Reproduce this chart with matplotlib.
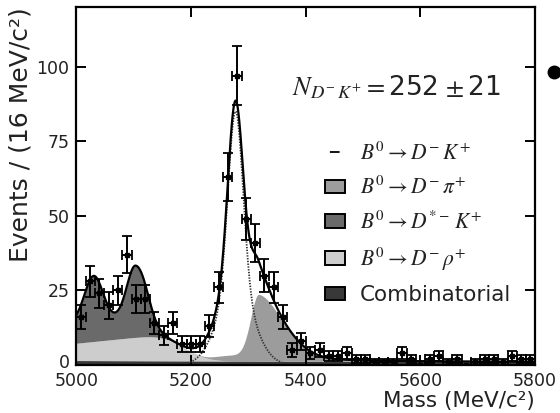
import math
import numpy as np
import matplotlib
matplotlib.use("Agg")
import matplotlib.pyplot as plt
import matplotlib.transforms as mtransforms
from matplotlib.lines import Line2D
from matplotlib.patches import Patch

plt.rcParams["mathtext.fontset"] = "stix"
plt.rcParams["font.family"] = ["DejaVu Sans"]
plt.rcParams["lines.scale_dashes"] = False

# ---- binned data: 16 MeV/c^2 bins from 5000 to 5800 ----
bin_width = 16
bin_centers = np.arange(5008, 5800, bin_width)
counts = [16, 28, 24, 20, 25, 37, 22, 22, 14, 10,
          14, 7, 7, 7, 13, 26, 63, 97, 49, 41,
          30, 26, 16, 5, 8, 4, 5, 3, 3, 4,
          2, 2, 1, 1, 1, 4, 2, 0, 2, 3,
          1, 2, 0, 1, 2, 2, 1, 3, 2, 2]

# ---- fit component parameters ----
# signal B0 -> D- K+ : double Gaussian
sig_mean = 5277.5
sig_core = [60.0, 13.0]    # amplitude, sigma
sig_wide = [25.0, 31.0]
# B0 -> D- pi+ (misidentified): bifurcated Gaussian + tail + low plateau
dpi_mean = 5318.0
dpi_core = [18.0, 14.0, 45.0]   # amplitude, sigma left, sigma right
dpi_tail = [2.5, 90.0]          # amplitude, decay length
dpi_plateau = [2.0, 5240.0, 25.0, 5340.0, 20.0]
# B0 -> D*- K+ : two horns on a plateau
dst_horn1 = [15.0, 5030.0, 16.0]
dst_horn2 = [17.2, 5103.0, 15.0, 22.0]
dst_base = [7.0, 5125.0, 15.0]
# B0 -> D- rho+ : rising shape with kinematic edge
rho_shape = [5.8, 0.02, 5185.0, 45.0]
# combinatorial: slowly falling exponential
comb_shape = [1.5, 0.0004]

legend_labels = [r"$B^0 \rightarrow D^{-}\,K^{+}$",
                 r"$B^0 \rightarrow D^{-}\,\pi^{+}$",
                 r"$B^0 \rightarrow D^{*-}\,K^{+}$",
                 r"$B^0 \rightarrow D^{-}\,\rho^{+}$",
                 "Combinatorial"]
fill_colors = ["#9c9c9c", "#6a6a6a", "#cdcdcd", "#383838"]

xticks = [5000, 5200, 5400, 5600, 5800]
yticks = [0, 25, 50, 75, 100]

erfc = np.vectorize(math.erfc)


def gauss(m, mu, s):
    return np.exp(-0.5 * ((m - mu) / s) ** 2)


def step_down(m, edge, width):
    return 0.5 * erfc((m - edge) / width)


m = np.linspace(5000, 5800, 1601)

comb = comb_shape[0] * np.exp(-comb_shape[1] * (m - 5000))
rho = (rho_shape[0] + rho_shape[1] * (m - 5000)) * step_down(m, rho_shape[2], rho_shape[3])
dstar = (dst_horn1[0] * gauss(m, dst_horn1[1], dst_horn1[2])
         + dst_horn2[0] * gauss(m, dst_horn2[1],
                                np.where(m < dst_horn2[1], dst_horn2[2], dst_horn2[3]))
         + dst_base[0] * step_down(m, dst_base[1], dst_base[2]))
left = m < dpi_mean
dpi = np.where(left,
               (dpi_core[0] + dpi_tail[0]) * gauss(m, dpi_mean, dpi_core[1]),
               dpi_core[0] * gauss(m, dpi_mean, dpi_core[2])
               + dpi_tail[0] * np.exp(-(m - dpi_mean) / dpi_tail[1]))
dpi = dpi + dpi_plateau[0] * (1 - step_down(m, dpi_plateau[1], dpi_plateau[2])) \
    * step_down(m, dpi_plateau[3], dpi_plateau[4])
signal = (sig_core[0] * gauss(m, sig_mean, sig_core[1])
          + sig_wide[0] * gauss(m, sig_mean, sig_wide[1]))

s0 = comb
s1 = s0 + rho
s2 = s1 + dstar
s3 = s2 + dpi
total = s3 + signal

fig = plt.figure(figsize=(5.6, 4.13), dpi=100)
ax = fig.add_axes([0.1366, 0.1162, 0.8188, 0.8668])

ax.fill_between(m, 0, s0, color=fill_colors[3], lw=0)
ax.fill_between(m, s0, s1, color=fill_colors[2], lw=0)
ax.fill_between(m, s1, s2, color=fill_colors[1], lw=0)
ax.fill_between(m, s2, s3, color=fill_colors[0], lw=0)
ax.plot(m, signal, color="#333333", lw=1.3, ls=(0, (1, 1)))
ax.plot(m, total, color="black", lw=1.6)

counts_arr = np.array(counts, dtype=float)
ax.errorbar(bin_centers, counts_arr, yerr=np.sqrt(counts_arr), xerr=bin_width / 2,
            fmt="s", ms=3, color="black", ecolor="black", elinewidth=1.4,
            capsize=3.5, capthick=1.3)

ax.set_xlim(5000, 5800)
ax.set_ylim(0, 120)
ax.set_xticks(xticks)
ax.set_yticks(yticks)
ax.tick_params(direction="in", length=7, width=1.4, labelsize=12.5,
               labelcolor="#222222", top=True, right=True, pad=5)
for sp in ax.spines.values():
    sp.set_linewidth(1.6)

# lift the "0" label slightly so it clears the first x label
fig.canvas.draw()
zero_label = ax.get_yticklabels()[0]
zero_label.set_transform(zero_label.get_transform()
                         + mtransforms.ScaledTranslation(0, 4 / 100, fig.dpi_scale_trans))

ax.set_xlabel("Mass (MeV/c²)", fontsize=15.5, loc="right", labelpad=1, color="#222222")
ax.set_ylabel("Events / (16 MeV/c²)", fontsize=18, loc="top", labelpad=3, color="#222222")

ax.text(0.47, 0.775, r"$N_{D^{-}\,K^{+}}=$" + "252" + r"$\,\pm$" + "21",
        transform=ax.transAxes, fontsize=19, ha="left", va="center", color="#222222")

sig_handle = Line2D([], [], color="black", lw=1.3, ls=(33.5, (7, 30)))
handles = [sig_handle] + [Patch(facecolor=c, edgecolor="black", lw=1.4) for c in fill_colors]
leg = ax.legend(handles, legend_labels, loc="upper left", bbox_to_anchor=(0.542, 0.625),
                frameon=False, fontsize=15.5, borderpad=0, borderaxespad=0,
                handlelength=0.92, handleheight=0.6, handletextpad=0.7,
                labelspacing=0.58)
for t in leg.get_texts():
    t.set_color("#222222")

fig.add_artist(Line2D([554 / 560], [1 - 72 / 413], marker="o", markersize=9,
                      color="black", transform=fig.transFigure))

fig.savefig("out.png", dpi=100)
